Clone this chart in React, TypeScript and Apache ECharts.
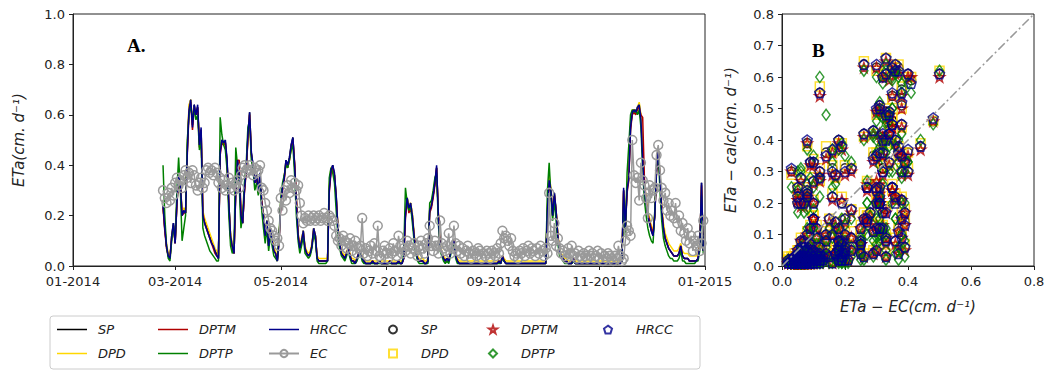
import React, { useEffect, useRef } from "react";
import * as echarts from "echarts";

// Daily series, first value on 2014-02-22, last on 2014-12-31
const START_DATE = "2014-02-22";
const X_TICK_LABELS = ["01-2014", "03-2014", "05-2014", "07-2014", "09-2014", "11-2014", "01-2015"];

const SP = [
  0.24,0.15,0.08,0.04,0.03,0.12,0.17,0.09,0.25,0.36,
  0.33,0.21,0.22,0.21,0.46,0.63,0.66,0.56,0.64,0.60,
  0.63,0.49,0.54,0.21,0.18,0.16,0.14,0.12,0.10,0.08,
  0.06,0.05,0.03,0.46,0.50,0.49,0.49,0.41,0.25,0.12,
  0.08,0.05,0.31,0.42,0.37,0.21,0.17,0.30,0.38,0.51,
  0.61,0.45,0.40,0.33,0.36,0.30,0.36,0.25,0.20,0.12,
  0.18,0.08,0.15,0.10,0.06,0.05,0.02,0.10,0.25,0.31,
  0.35,0.42,0.40,0.43,0.48,0.51,0.40,0.26,0.12,0.07,
  0.10,0.14,0.07,0.05,0.04,0.05,0.08,0.15,0.12,0.03,
  0.02,0.02,0.02,0.02,0.02,0.02,0.31,0.38,0.40,0.36,
  0.28,0.15,0.09,0.05,0.04,0.03,0.05,0.07,0.04,0.02,
  0.02,0.01,0.03,0.05,0.06,0.03,0.02,0.01,0.01,0.01,
  0.01,0.02,0.01,0.01,0.01,0.02,0.01,0.01,0.01,0.01,
  0.01,0.02,0.01,0.01,0.01,0.01,0.02,0.01,0.01,0.03,
  0.21,0.27,0.23,0.25,0.20,0.12,0.06,0.03,0.02,0.02,
  0.02,0.01,0.01,0.02,0.22,0.24,0.28,0.33,0.39,0.20,
  0.08,0.05,0.03,0.02,0.03,0.02,0.05,0.08,0.10,0.04,
  0.02,0.01,0.01,0.01,0.01,0.01,0.01,0.01,0.01,0.01,
  0.01,0.01,0.01,0.01,0.01,0.01,0.01,0.01,0.01,0.01,
  0.01,0.01,0.01,0.01,0.02,0.01,0.04,0.02,0.01,0.01,
  0.01,0.01,0.01,0.01,0.01,0.01,0.01,0.01,0.01,0.01,
  0.01,0.01,0.01,0.01,0.01,0.01,0.01,0.01,0.01,0.01,
  0.01,0.01,0.23,0.35,0.30,0.20,0.29,0.22,0.12,0.06,
  0.04,0.03,0.02,0.02,0.01,0.01,0.01,0.03,0.01,0.01,
  0.01,0.01,0.01,0.01,0.01,0.01,0.01,0.01,0.01,0.01,
  0.01,0.01,0.01,0.01,0.01,0.01,0.01,0.01,0.01,0.01,
  0.01,0.01,0.01,0.01,0.01,0.02,0.30,0.15,0.31,0.36,
  0.55,0.61,0.62,0.61,0.63,0.64,0.59,0.45,0.31,0.25,
  0.20,0.17,0.14,0.12,0.20,0.38,0.46,0.35,0.22,0.15,
  0.11,0.09,0.07,0.06,0.05,0.04,0.04,0.04,0.05,0.08,
  0.04,0.03,0.03,0.03,0.02,0.02,0.02,0.02,0.02,0.03,
  0.08,0.33,0.06,
];

const DPD = [
  0.23,0.16,0.09,0.05,0.04,0.12,0.16,0.10,0.26,0.35,
  0.32,0.22,0.23,0.22,0.47,0.64,0.66,0.57,0.63,0.61,
  0.62,0.50,0.53,0.22,0.19,0.17,0.15,0.13,0.11,0.09,
  0.07,0.06,0.04,0.47,0.49,0.48,0.48,0.40,0.24,0.13,
  0.09,0.06,0.32,0.41,0.35,0.21,0.18,0.31,0.38,0.50,
  0.60,0.44,0.39,0.34,0.35,0.31,0.36,0.26,0.21,0.13,
  0.18,0.09,0.15,0.11,0.07,0.06,0.03,0.11,0.26,0.31,
  0.36,0.41,0.40,0.42,0.47,0.50,0.39,0.26,0.13,0.08,
  0.11,0.14,0.08,0.06,0.05,0.06,0.09,0.15,0.12,0.04,
  0.03,0.03,0.03,0.03,0.03,0.03,0.32,0.39,0.39,0.36,
  0.27,0.16,0.10,0.06,0.05,0.04,0.06,0.07,0.05,0.03,
  0.03,0.02,0.03,0.05,0.06,0.04,0.03,0.02,0.02,0.02,
  0.02,0.02,0.02,0.02,0.02,0.02,0.02,0.02,0.02,0.02,
  0.02,0.02,0.02,0.02,0.02,0.02,0.02,0.02,0.02,0.03,
  0.22,0.27,0.24,0.25,0.21,0.13,0.07,0.04,0.03,0.03,
  0.03,0.02,0.02,0.03,0.23,0.25,0.29,0.34,0.38,0.21,
  0.09,0.06,0.04,0.03,0.03,0.03,0.05,0.08,0.10,0.05,
  0.03,0.02,0.02,0.02,0.02,0.02,0.02,0.02,0.02,0.02,
  0.02,0.02,0.02,0.02,0.02,0.02,0.02,0.02,0.02,0.02,
  0.02,0.02,0.02,0.02,0.02,0.02,0.04,0.03,0.02,0.02,
  0.02,0.02,0.02,0.02,0.02,0.02,0.02,0.02,0.02,0.02,
  0.02,0.02,0.02,0.02,0.02,0.02,0.02,0.02,0.02,0.02,
  0.02,0.02,0.24,0.36,0.31,0.21,0.28,0.22,0.13,0.07,
  0.05,0.04,0.03,0.03,0.02,0.02,0.02,0.03,0.02,0.02,
  0.02,0.02,0.02,0.02,0.02,0.02,0.02,0.02,0.02,0.02,
  0.02,0.02,0.02,0.02,0.02,0.02,0.02,0.02,0.02,0.02,
  0.02,0.02,0.02,0.02,0.02,0.03,0.29,0.16,0.32,0.38,
  0.57,0.62,0.62,0.61,0.63,0.65,0.60,0.45,0.32,0.27,
  0.22,0.19,0.16,0.14,0.21,0.39,0.46,0.36,0.24,0.17,
  0.13,0.11,0.09,0.08,0.07,0.06,0.06,0.06,0.07,0.09,
  0.06,0.05,0.05,0.05,0.04,0.04,0.04,0.04,0.04,0.05,
  0.09,0.31,0.08,
];

const DPTM = [
  0.23,0.14,0.07,0.04,0.03,0.11,0.16,0.09,0.24,0.35,
  0.32,0.20,0.21,0.21,0.44,0.61,0.65,0.54,0.63,0.60,
  0.63,0.47,0.54,0.21,0.17,0.15,0.13,0.11,0.09,0.07,
  0.05,0.04,0.03,0.44,0.49,0.48,0.49,0.41,0.24,0.11,
  0.07,0.05,0.29,0.42,0.42,0.22,0.17,0.29,0.37,0.50,
  0.60,0.44,0.39,0.33,0.35,0.29,0.35,0.26,0.20,0.12,
  0.17,0.08,0.14,0.10,0.06,0.05,0.02,0.10,0.24,0.30,
  0.34,0.41,0.39,0.42,0.47,0.50,0.41,0.27,0.13,0.07,
  0.10,0.13,0.07,0.05,0.04,0.05,0.08,0.14,0.12,0.03,
  0.02,0.02,0.02,0.02,0.02,0.02,0.29,0.37,0.39,0.36,
  0.27,0.15,0.09,0.05,0.04,0.03,0.05,0.07,0.04,0.02,
  0.02,0.01,0.03,0.05,0.06,0.03,0.02,0.01,0.01,0.01,
  0.01,0.02,0.01,0.01,0.01,0.02,0.01,0.01,0.01,0.01,
  0.01,0.02,0.01,0.01,0.01,0.01,0.02,0.01,0.01,0.03,
  0.19,0.26,0.21,0.23,0.19,0.12,0.06,0.03,0.02,0.02,
  0.02,0.01,0.01,0.02,0.21,0.23,0.27,0.32,0.39,0.21,
  0.08,0.05,0.03,0.02,0.03,0.02,0.05,0.08,0.10,0.04,
  0.02,0.01,0.01,0.01,0.01,0.01,0.01,0.01,0.01,0.01,
  0.01,0.01,0.01,0.01,0.01,0.01,0.01,0.01,0.01,0.01,
  0.01,0.01,0.01,0.01,0.02,0.01,0.04,0.02,0.01,0.01,
  0.01,0.01,0.01,0.01,0.01,0.01,0.01,0.01,0.01,0.01,
  0.01,0.01,0.01,0.01,0.01,0.01,0.01,0.01,0.01,0.01,
  0.01,0.01,0.21,0.33,0.29,0.20,0.28,0.22,0.12,0.06,
  0.04,0.03,0.02,0.02,0.01,0.01,0.01,0.03,0.01,0.01,
  0.01,0.01,0.01,0.01,0.01,0.01,0.01,0.01,0.01,0.01,
  0.01,0.01,0.01,0.01,0.01,0.01,0.01,0.01,0.01,0.01,
  0.01,0.01,0.01,0.01,0.01,0.02,0.30,0.15,0.29,0.34,
  0.54,0.60,0.61,0.60,0.62,0.63,0.60,0.59,0.35,0.26,
  0.21,0.18,0.15,0.13,0.20,0.37,0.46,0.35,0.23,0.15,
  0.11,0.09,0.07,0.06,0.05,0.04,0.04,0.04,0.05,0.08,
  0.04,0.03,0.03,0.03,0.02,0.02,0.02,0.02,0.02,0.03,
  0.08,0.32,0.06,
];

const DPTP = [
  0.40,0.20,0.08,0.03,0.02,0.10,0.16,0.10,0.30,0.43,
  0.30,0.10,0.15,0.20,0.50,0.60,0.64,0.58,0.62,0.58,
  0.60,0.46,0.50,0.15,0.12,0.10,0.08,0.06,0.05,0.04,
  0.03,0.02,0.02,0.59,0.52,0.48,0.46,0.38,0.20,0.08,
  0.05,0.07,0.47,0.40,0.32,0.15,0.20,0.33,0.40,0.55,
  0.58,0.42,0.38,0.30,0.33,0.28,0.33,0.22,0.15,0.09,
  0.15,0.06,0.12,0.08,0.04,0.03,0.02,0.12,0.27,0.33,
  0.36,0.40,0.39,0.42,0.46,0.48,0.36,0.20,0.10,0.05,
  0.08,0.12,0.05,0.04,0.03,0.04,0.07,0.13,0.10,0.02,
  0.01,0.01,0.01,0.01,0.01,0.02,0.35,0.39,0.37,0.33,
  0.22,0.12,0.07,0.04,0.03,0.02,0.04,0.06,0.03,0.01,
  0.01,0.01,0.02,0.04,0.05,0.02,0.01,0.01,0.01,0.01,
  0.01,0.01,0.01,0.01,0.01,0.01,0.01,0.01,0.01,0.01,
  0.01,0.01,0.01,0.01,0.01,0.01,0.01,0.01,0.01,0.05,
  0.31,0.25,0.22,0.24,0.17,0.10,0.05,0.02,0.01,0.01,
  0.01,0.01,0.01,0.01,0.25,0.26,0.30,0.35,0.37,0.17,
  0.06,0.04,0.02,0.01,0.02,0.01,0.04,0.07,0.09,0.03,
  0.01,0.01,0.01,0.01,0.01,0.01,0.01,0.01,0.01,0.01,
  0.01,0.01,0.01,0.01,0.01,0.01,0.01,0.01,0.01,0.01,
  0.01,0.01,0.01,0.01,0.01,0.01,0.03,0.02,0.01,0.01,
  0.01,0.01,0.01,0.01,0.01,0.01,0.01,0.01,0.01,0.01,
  0.01,0.01,0.01,0.01,0.01,0.01,0.01,0.01,0.01,0.01,
  0.01,0.01,0.30,0.41,0.28,0.18,0.26,0.18,0.09,0.04,
  0.03,0.02,0.01,0.01,0.01,0.01,0.01,0.02,0.01,0.01,
  0.01,0.01,0.01,0.01,0.01,0.01,0.01,0.01,0.01,0.01,
  0.01,0.01,0.01,0.01,0.01,0.01,0.01,0.01,0.01,0.01,
  0.01,0.01,0.01,0.01,0.01,0.02,0.25,0.12,0.37,0.48,
  0.60,0.62,0.61,0.62,0.60,0.62,0.55,0.38,0.26,0.20,
  0.15,0.12,0.10,0.09,0.22,0.40,0.45,0.30,0.18,0.11,
  0.08,0.06,0.04,0.03,0.03,0.02,0.02,0.02,0.03,0.06,
  0.02,0.02,0.01,0.01,0.01,0.01,0.01,0.01,0.02,0.02,
  0.06,0.28,0.05,
];

const HRCC = [
  0.24,0.15,0.08,0.04,0.03,0.12,0.17,0.09,0.25,0.36,
  0.33,0.20,0.22,0.21,0.45,0.62,0.66,0.55,0.64,0.60,
  0.64,0.48,0.55,0.20,0.17,0.15,0.13,0.11,0.09,0.08,
  0.06,0.04,0.03,0.45,0.50,0.49,0.50,0.42,0.25,0.12,
  0.08,0.05,0.30,0.42,0.36,0.20,0.17,0.30,0.38,0.52,
  0.61,0.45,0.40,0.33,0.36,0.30,0.37,0.25,0.20,0.12,
  0.18,0.08,0.15,0.10,0.06,0.05,0.02,0.10,0.25,0.31,
  0.35,0.42,0.40,0.43,0.48,0.51,0.40,0.25,0.12,0.07,
  0.10,0.14,0.07,0.05,0.04,0.05,0.08,0.15,0.12,0.03,
  0.02,0.02,0.02,0.02,0.02,0.02,0.30,0.38,0.40,0.37,
  0.28,0.15,0.09,0.05,0.04,0.03,0.05,0.07,0.04,0.02,
  0.02,0.01,0.03,0.05,0.06,0.03,0.02,0.01,0.01,0.01,
  0.01,0.02,0.01,0.01,0.01,0.02,0.01,0.01,0.01,0.01,
  0.01,0.02,0.01,0.01,0.01,0.01,0.02,0.01,0.01,0.03,
  0.20,0.27,0.23,0.25,0.20,0.12,0.06,0.03,0.02,0.02,
  0.02,0.01,0.01,0.02,0.22,0.24,0.28,0.33,0.40,0.20,
  0.08,0.05,0.03,0.02,0.03,0.02,0.05,0.08,0.10,0.04,
  0.02,0.01,0.01,0.01,0.01,0.01,0.01,0.01,0.01,0.01,
  0.01,0.01,0.01,0.01,0.01,0.01,0.01,0.01,0.01,0.01,
  0.01,0.01,0.01,0.01,0.02,0.01,0.04,0.02,0.01,0.01,
  0.01,0.01,0.01,0.01,0.01,0.01,0.01,0.01,0.01,0.01,
  0.01,0.01,0.01,0.01,0.01,0.01,0.01,0.01,0.01,0.01,
  0.01,0.01,0.22,0.34,0.30,0.20,0.29,0.22,0.12,0.06,
  0.04,0.03,0.02,0.02,0.01,0.01,0.01,0.03,0.01,0.01,
  0.01,0.01,0.01,0.01,0.01,0.01,0.01,0.01,0.01,0.01,
  0.01,0.01,0.01,0.01,0.01,0.01,0.01,0.01,0.01,0.01,
  0.01,0.01,0.01,0.01,0.01,0.02,0.31,0.15,0.30,0.35,
  0.55,0.61,0.62,0.61,0.63,0.64,0.58,0.42,0.30,0.25,
  0.20,0.17,0.14,0.12,0.20,0.38,0.47,0.35,0.22,0.15,
  0.11,0.09,0.07,0.06,0.05,0.04,0.04,0.04,0.05,0.08,
  0.04,0.03,0.03,0.03,0.02,0.02,0.02,0.02,0.02,0.03,
  0.08,0.33,0.06,
];

const EC = [
  0.30,0.27,0.25,0.29,0.26,0.31,0.28,0.33,0.35,0.32,
  0.34,0.31,0.36,0.38,0.35,0.37,0.33,0.38,0.36,0.32,
  0.30,0.33,0.35,0.31,0.33,0.38,0.39,0.37,0.38,0.36,
  0.39,0.37,0.33,0.35,0.31,0.34,0.30,0.32,0.35,0.31,
  0.33,0.30,0.32,0.34,0.31,0.36,0.39,0.40,0.37,0.38,
  0.40,0.38,0.36,0.39,0.37,0.38,0.40,0.31,0.30,0.25,
  0.22,0.18,0.15,0.14,0.12,0.10,0.11,0.08,0.27,0.22,
  0.30,0.26,0.32,0.29,0.34,0.31,0.33,0.30,0.32,0.25,
  0.20,0.17,0.19,0.18,0.20,0.18,0.19,0.20,0.18,0.19,
  0.20,0.18,0.19,0.21,0.19,0.18,0.20,0.19,0.18,0.16,
  0.12,0.10,0.11,0.08,0.12,0.10,0.07,0.09,0.11,0.06,
  0.08,0.10,0.05,0.07,0.08,0.19,0.05,0.07,0.04,0.06,
  0.08,0.05,0.09,0.06,0.16,0.04,0.03,0.06,0.08,0.05,
  0.03,0.07,0.05,0.09,0.06,0.04,0.12,0.08,0.05,0.07,
  0.06,0.10,0.08,0.05,0.07,0.09,0.06,0.04,0.08,0.10,
  0.07,0.05,0.09,0.11,0.16,0.08,0.06,0.10,0.08,0.05,
  0.18,0.09,0.07,0.06,0.08,0.13,0.05,0.07,0.16,0.09,
  0.06,0.08,0.05,0.07,0.04,0.06,0.08,0.05,0.03,0.06,
  0.05,0.04,0.07,0.06,0.03,0.05,0.04,0.06,0.05,0.03,
  0.06,0.05,0.04,0.07,0.05,0.09,0.14,0.11,0.12,0.10,
  0.08,0.11,0.06,0.04,0.05,0.03,0.06,0.05,0.07,0.04,
  0.06,0.08,0.05,0.07,0.06,0.04,0.07,0.05,0.08,0.06,
  0.04,0.07,0.05,0.29,0.12,0.10,0.17,0.08,0.11,0.07,
  0.05,0.06,0.04,0.03,0.07,0.05,0.08,0.04,0.05,0.03,
  0.06,0.04,0.03,0.05,0.04,0.03,0.06,0.04,0.05,0.03,
  0.04,0.06,0.03,0.05,0.02,0.04,0.03,0.05,0.04,0.03,
  0.02,0.04,0.03,0.08,0.04,0.02,0.03,0.10,0.16,0.14,
  0.12,0.50,0.36,0.33,0.35,0.26,0.41,0.34,0.32,0.27,
  0.19,0.32,0.27,0.30,0.31,0.44,0.48,0.38,0.31,0.26,
  0.29,0.22,0.25,0.20,0.22,0.19,0.25,0.17,0.20,0.14,
  0.17,0.13,0.10,0.15,0.09,0.12,0.06,0.10,0.08,0.12,
  0.06,0.09,0.18,
];

const MODEL_NAMES = ["SP", "DPD", "DPTM", "DPTP", "HRCC"];
const MODEL_VALUES = [SP, DPD, DPTM, DPTP, HRCC];
const MODEL_COLORS = ["#000000", "#FFD700", "#B00000", "#008000", "#00008B"];
const EC_COLOR = "#9a9a9a";

const STAR = "path://M50,2 L61,36 L97,36 L68,57 L79,92 L50,71 L21,92 L32,57 L3,36 L39,36 Z";
const PENTAGON = "path://M50,2 L98,37 L80,95 L20,95 L2,37 Z";
const LINE_ICON = "path://M0,0 L60,0 L60,3 L0,3 Z";
const MODEL_SYMBOLS = ["circle", "rect", STAR, "diamond", PENTAGON];
const MODEL_SYMBOL_SIZES: any[] = [9, 9, 10, [8, 11], 10];

const FONT = "DejaVu Sans";
const TXT = "#222222";

export default function App() {
  const ref = useRef<HTMLDivElement>(null);

  useEffect(() => {
    const chart = echarts.init(ref.current!, null, { renderer: "svg" });
    const t0 = Date.parse(START_DATE + "T00:00:00Z");
    const dates = EC.map((_, i) => t0 + i * 86400000);
    const tickTimes = X_TICK_LABELS.map((l) => {
      const [m, y] = l.split("-").map(Number);
      return Date.UTC(y, m - 1, 1);
    });

    const axisCommon = {
      axisLine: { show: true, lineStyle: { color: "#222", width: 1 } },
      axisTick: { show: true, inside: false, length: 4, lineStyle: { color: "#222" } },
      splitLine: { show: false },
      axisLabel: { color: TXT, fontFamily: FONT, fontSize: 13, margin: 8 },
    };

    const lineSeries: any[] = MODEL_NAMES.map((n, k) => ({
      type: "line",
      name: n,
      xAxisIndex: 0,
      yAxisIndex: 0,
      symbol: "none",
      showSymbol: false,
      data: dates.map((t, i) => [t, MODEL_VALUES[k][i]]),
      lineStyle: { color: MODEL_COLORS[k], width: 1.5 },
      itemStyle: { color: MODEL_COLORS[k] },
    }));
    lineSeries.push({
      type: "line",
      name: "EC",
      xAxisIndex: 0,
      yAxisIndex: 0,
      symbol: "circle",
      symbolSize: 9,
      showSymbol: true,
      showAllSymbol: true,
      data: dates.map((t, i) => [t, EC[i]]),
      lineStyle: { color: EC_COLOR, width: 1.5 },
      itemStyle: { color: "rgba(255,255,255,0)", borderColor: EC_COLOR, borderWidth: 1.5 },
    });

    const scatterSeries: any[] = MODEL_NAMES.map((n, k) => ({
      type: "scatter",
      name: n + " ",
      xAxisIndex: 1,
      yAxisIndex: 1,
      symbol: MODEL_SYMBOLS[k],
      symbolSize: MODEL_SYMBOL_SIZES[k],
      data: EC.map((e, i) => [e, MODEL_VALUES[k][i]]),
      itemStyle: { color: "rgba(255,255,255,0)", borderColor: MODEL_COLORS[k], borderWidth: 1.5 },
    }));
    scatterSeries.push({
      type: "line",
      name: "1:1",
      xAxisIndex: 1,
      yAxisIndex: 1,
      symbol: "none",
      data: [[0, 0], [0.8, 0.8]],
      lineStyle: { color: "#999999", width: 1.5, type: [9, 3, 2, 3] },
      z: 5,
    });

    const lineItem = (n: string) => ({ name: n, icon: LINE_ICON });
    const legendCols = [
      { data: [lineItem("SP"), lineItem("DPD")], left: 57, w: 30, h: 9, pad: 6 },
      { data: [lineItem("DPTM"), lineItem("DPTP")], left: 158, w: 30, h: 9, pad: 6 },
      { data: [lineItem("HRCC"), { name: "EC" }], left: 268, w: 30, h: 9, pad: 6 },
      { data: [{ name: "SP " }, { name: "DPD " }], left: 388, w: 8, h: 8, pad: 19 },
      { data: [{ name: "DPTM " }, { name: "DPTP " }], left: 488, w: 8, h: 8, pad: 19 },
      { data: [{ name: "HRCC " }], left: 603, w: 8, h: 8, pad: 19 },
    ];
    const legends = legendCols.map((c) => ({
      orient: "vertical",
      left: c.left,
      top: 323,
      itemWidth: c.w,
      itemHeight: c.h,
      itemGap: 11,
      padding: 0,
      selectedMode: false,
      data: c.data,
      formatter: (n: string) => n.trim(),
      textStyle: { fontFamily: FONT, fontSize: 13, fontStyle: "italic", color: TXT, padding: [0, 0, 0, c.pad] },
    }));

    const option: any = {
      animation: false,
      backgroundColor: "#ffffff",
      grid: [
        { left: 73, top: 14, width: 632, height: 252, show: true, borderColor: "#222", borderWidth: 1, containLabel: false },
        { left: 782, top: 14, width: 252, height: 252, show: true, borderColor: "#222", borderWidth: 1, containLabel: false },
      ],
      xAxis: [
        {
          ...axisCommon,
          type: "value",
          gridIndex: 0,
          min: tickTimes[0],
          max: tickTimes[tickTimes.length - 1],
          axisTick: { ...axisCommon.axisTick, customValues: tickTimes },
          axisLabel: {
            ...axisCommon.axisLabel,
            margin: 9,
            customValues: tickTimes,
            formatter: (v: number) => {
              const idx = tickTimes.indexOf(v);
              if (idx >= 0) return X_TICK_LABELS[idx];
              const d = new Date(v);
              return String(d.getUTCMonth() + 1).padStart(2, "0") + "-" + d.getUTCFullYear();
            },
          },
        },
        {
          ...axisCommon,
          type: "value",
          gridIndex: 1,
          min: 0,
          max: 0.8,
          interval: 0.2,
          axisLabel: { ...axisCommon.axisLabel, margin: 9, formatter: (v: number) => v.toFixed(1) },
          name: "ETa − EC(cm. d⁻¹)",
          nameLocation: "middle",
          nameGap: 33,
          nameTextStyle: { fontFamily: FONT, fontSize: 15, fontStyle: "italic", color: TXT },
        },
      ],
      yAxis: [
        {
          ...axisCommon,
          type: "value",
          gridIndex: 0,
          min: 0,
          max: 1.0,
          interval: 0.2,
          axisLabel: { ...axisCommon.axisLabel, formatter: (v: number) => v.toFixed(1) },
          name: "ETa(cm. d⁻¹)",
          nameLocation: "middle",
          nameGap: 47,
          nameRotate: 90,
          nameTextStyle: { fontFamily: FONT, fontSize: 15, fontStyle: "italic", color: TXT },
        },
        {
          ...axisCommon,
          type: "value",
          gridIndex: 1,
          min: 0,
          max: 0.8,
          interval: 0.1,
          axisLabel: { ...axisCommon.axisLabel, formatter: (v: number) => v.toFixed(1) },
          name: "ETa − calc(cm. d⁻¹)",
          nameLocation: "middle",
          nameGap: 44,
          nameRotate: 90,
          nameTextStyle: { fontFamily: FONT, fontSize: 15, fontStyle: "italic", color: TXT },
        },
      ],
      legend: legends,
      graphic: [
        {
          type: "rect",
          z: 0,
          shape: { x: 50, y: 316, width: 650, height: 53, r: 3 },
          style: { fill: "#ffffff", stroke: "#cccccc", lineWidth: 1 },
        },
        {
          type: "text",
          left: 127,
          top: 36,
          style: { text: "A.", font: "bold 19px 'Liberation Serif'", fill: "#000" },
        },
        {
          type: "text",
          left: 812,
          top: 41,
          style: { text: "B", font: "bold 19px 'Liberation Serif'", fill: "#000" },
        },
      ],
      series: [...lineSeries, ...scatterSeries],
    };

    chart.setOption(option);
    return () => chart.dispose();
  }, []);

  return (
    <div
      ref={ref}
      style={{ position: "fixed", left: 0, top: 0, width: 1050, height: 374, background: "#fff" }}
    />
  );
}
